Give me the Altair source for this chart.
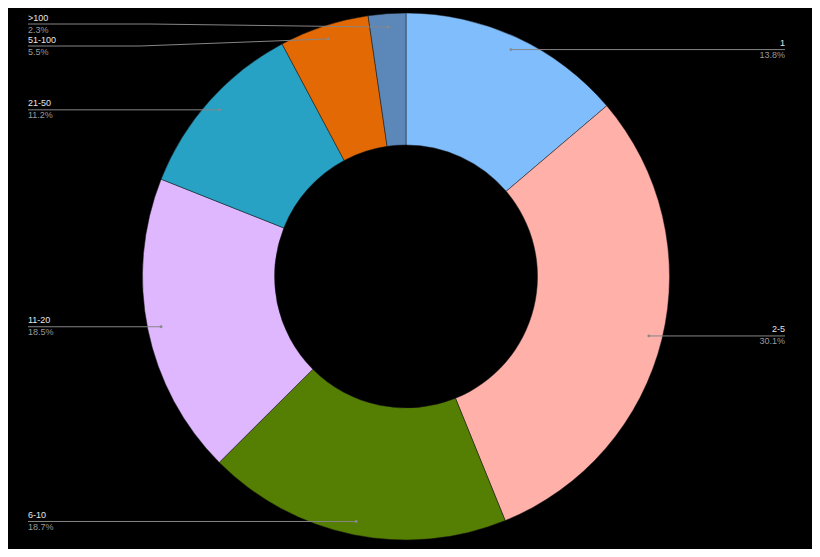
import math
import altair as alt
import pandas as pd

# ---- data ----
categories = ["1", "2-5", "6-10", "11-20", "21-50", "51-100", ">100"]
percents = [13.8, 30.1, 18.7, 18.5, 11.2, 5.5, 2.3]
pct_labels = ["13.8%", "30.1%", "18.7%", "18.5%", "11.2%", "5.5%", "2.3%"]
colors = ["#7fbdfc", "#ffb0a9", "#557f02", "#dfb7fe", "#27a2c4", "#e26904", "#5b87b9"]

# ---- layout (page pixel coordinates) ----
W, H = 804, 541
CX, CY = 406, 276.5
R_OUT, R_IN, R_DOT = 263.5, 131.5, 250
side = ["right", "right", "left", "left", "left", "left", "left"]
label_y_override = {"51-100": 46, ">100": 24}
bend_x = {"51-100": 140, ">100": 150}
LEFT_X, RIGHT_X = 28, 785

total = sum(percents)
pie_df = pd.DataFrame({"cat": categories, "value": percents, "order": list(range(len(categories)))})

line_rows, dot_rows, text_rows = [], [], []
cum = 0.0
for i, (c, v) in enumerate(zip(categories, percents)):
    a = (cum + v / 2) / total * 2 * math.pi
    cum += v
    dx = CX + R_DOT * math.sin(a)
    dy = CY - R_DOT * math.cos(a)
    ly = label_y_override.get(c, dy)
    ex = RIGHT_X if side[i] == "right" else LEFT_X
    pts = [(dx, dy)]
    if c in bend_x:
        pts.append((bend_x[c], ly))
    pts.append((ex, ly))
    for k, (px, py) in enumerate(pts):
        line_rows.append({"cat": c, "k": k, "x": px, "y": py})
    dot_rows.append({"cat": c, "x": dx, "y": dy})
    al = "right" if side[i] == "right" else "left"
    text_rows.append({"cat": c, "x": ex, "y": ly - 1.5, "t": c, "kind": "name", "side": al})
    text_rows.append({"cat": c, "x": ex, "y": ly + 1.5, "t": pct_labels[i], "kind": "pct", "side": al})

lines_df = pd.DataFrame(line_rows)
dots_df = pd.DataFrame(dot_rows)
text_df = pd.DataFrame(text_rows)

xs = alt.Scale(domain=[8, 8 + W], range=[0, W])
ys = alt.Scale(domain=[8, 8 + H], range=[0, H])

pie = alt.Chart(pie_df).mark_arc(
    radius=R_OUT, radius2=R_IN, stroke="#1a1a1a", strokeWidth=0.5
).encode(
    theta=alt.Theta("value:Q", stack=True),
    order=alt.Order("order:Q"),
    color=alt.Color("cat:N", scale=alt.Scale(domain=categories, range=colors), legend=None),
    x=alt.value(CX - 8),
    y=alt.value(CY - 8),
)

lines = alt.Chart(lines_df).mark_line(color="#858585", strokeWidth=1).encode(
    x=alt.X("x:Q", scale=xs, axis=None),
    y=alt.Y("y:Q", scale=ys, axis=None),
    detail="cat:N",
    order="k:Q",
)

dots = alt.Chart(dots_df).mark_point(filled=True, color="#8a8a8a", size=8, opacity=1).encode(
    x=alt.X("x:Q", scale=xs, axis=None),
    y=alt.Y("y:Q", scale=ys, axis=None),
)

def text_layer(kind, al, color, baseline):
    d = text_df[(text_df["kind"] == kind) & (text_df["side"] == al)].reset_index(drop=True)
    return alt.Chart(d).mark_text(
        align=al, baseline=baseline, font="Liberation Sans", fontSize=9, color=color
    ).encode(
        x=alt.X("x:Q", scale=xs, axis=None),
        y=alt.Y("y:Q", scale=ys, axis=None),
        text="t:N",
    )

texts = [
    text_layer("name", "left", "#e6e6e6", "bottom"),
    text_layer("name", "right", "#e6e6e6", "bottom"),
    text_layer("pct", "left", "#9a9a9a", "top"),
    text_layer("pct", "right", "#9a9a9a", "top"),
]

chart = alt.layer(pie, lines, dots, *texts).properties(
    width=W, height=H, padding=0, background="black", autosize=alt.AutoSizeParams(type="none")
).configure_view(stroke=None)

chart.save("out.html", embed_options={"renderer": "svg", "actions": False})
